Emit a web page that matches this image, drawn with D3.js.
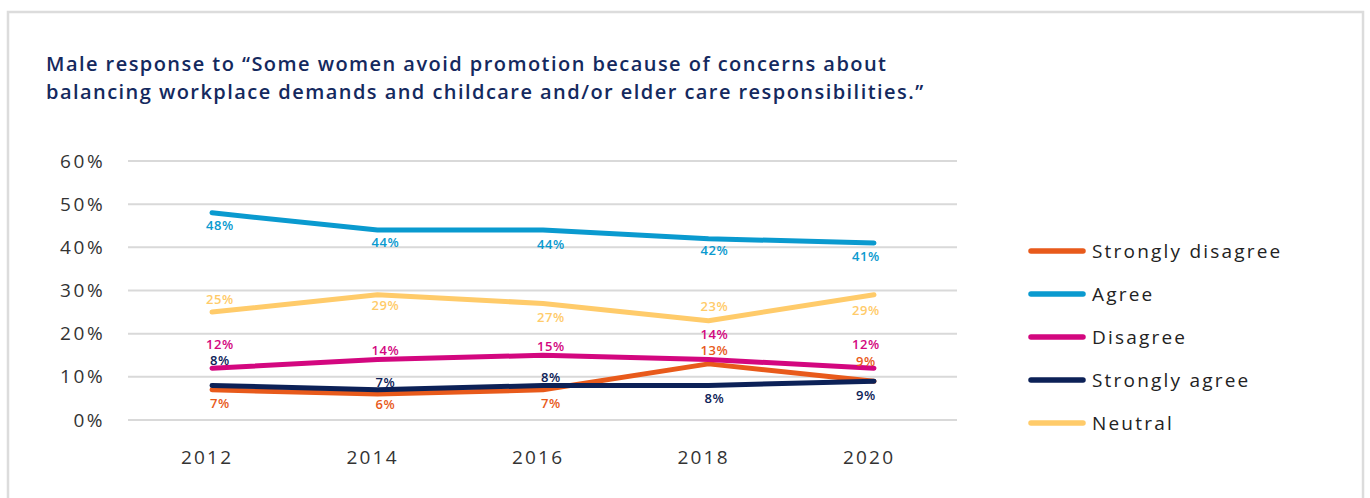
<!DOCTYPE html>
<html>
<head>
<meta charset="utf-8">
<script src="https://cdn.jsdelivr.net/npm/d3@7"></script>
<style>
  html, body { margin: 0; padding: 0; background: #fff; }
  svg { display: block; }
</style>
</head>
<body>
<svg id="chart" width="1370" height="498"></svg>
<script>
// Survey years and responses (% of male respondents)
const years = ["2012", "2014", "2016", "2018", "2020"];
const yTicks = [0, 10, 20, 30, 40, 50, 60];

const stronglyDisagree = [7, 6, 7, 13, 9];
const agree = [48, 44, 44, 42, 41];
const disagree = [12, 14, 15, 14, 12];
const stronglyAgree = [8, 7, 8, 8, 9];
const neutral = [25, 29, 27, 23, 29];

const legendOrder = ["Strongly disagree", "Agree", "Disagree", "Strongly agree", "Neutral"];
const drawOrder = ["Neutral", "Agree", "Strongly disagree", "Disagree", "Strongly agree"];

const seriesValues = {
  "Strongly disagree": stronglyDisagree,
  "Agree": agree,
  "Disagree": disagree,
  "Strongly agree": stronglyAgree,
  "Neutral": neutral
};

const colors = {
  "Strongly disagree": "#E85A1B",
  "Agree": "#0A9ACF",
  "Disagree": "#D3077F",
  "Strongly agree": "#0C2157",
  "Neutral": "#FFCB6A"
};

// Vertical offset of each value label from its point (px), avoiding overlaps
const labelDy = {
  "Strongly disagree": [14, 10, 14, -13, -20],
  "Agree": [13, 12, 14, 12, 13],
  "Disagree": [-24, -9, -9, -25, -24],
  "Strongly agree": [-25, -7, -8, 13, 14],
  "Neutral": [-13, 11, 14, -14, 16]
};
const labelDx = [8, 8, 8, 6, -8];

const FONT = "'Open Sans', 'Noto Sans', sans-serif";
const SPACING = 2.2;

const svg = d3.select("#chart");

// Card frame
svg.append("rect")
  .attr("x", 8).attr("y", 12)
  .attr("width", 1355).attr("height", 520)
  .attr("fill", "#fff")
  .attr("stroke", "#dcdcdc")
  .attr("stroke-width", 2.5);

// Title
const titleLines = [
  "Male response to \u201cSome women avoid promotion because of concerns about",
  "balancing workplace demands and childcare and/or elder care responsibilities.\u201d"
];
const title = svg.append("g")
  .attr("font-family", FONT)
  .attr("font-weight", 600)
  .attr("font-size", 20)
  .attr("letter-spacing", 1.45)
  .attr("fill", "#14295E");
title.selectAll("text").data(titleLines).join("text")
  .attr("x", 46)
  .attr("y", (d, i) => 71 + i * 28)
  .text(d => d);

// Scales
const x = d3.scalePoint().domain(years).range([212, 874]);
const y = d3.scaleLinear().domain([0, 60]).range([420, 161]);
const gridLeft = 128, gridRight = 957;

// Gridlines + y labels
const yAxis = svg.append("g");
yAxis.selectAll("line").data(yTicks).join("line")
  .attr("x1", gridLeft).attr("x2", gridRight)
  .attr("y1", d => y(d)).attr("y2", d => y(d))
  .attr("stroke", "#d9d9d9")
  .attr("stroke-width", 2);
yAxis.selectAll("text").data(yTicks).join("text")
  .attr("x", 103 + SPACING)
  .attr("y", d => y(d))
  .attr("dy", "0.35em")
  .attr("text-anchor", "end")
  .attr("font-family", FONT)
  .attr("font-size", 19)
  .attr("letter-spacing", 2.6)
  .attr("fill", "#333")
  .text(d => d + "%");

// X labels
svg.append("g").selectAll("text").data(years).join("text")
  .attr("x", d => x(d) - 6 + SPACING / 2)
  .attr("y", 457)
  .attr("dy", "0.35em")
  .attr("text-anchor", "middle")
  .attr("font-family", FONT)
  .attr("font-size", 19)
  .attr("letter-spacing", SPACING)
  .attr("fill", "#333")
  .text(d => d);

// Lines
const line = d3.line()
  .x((d, i) => x(years[i]))
  .y(d => y(d));

const linesG = svg.append("g");
drawOrder.forEach(name => {
  linesG.append("path")
    .datum(seriesValues[name])
    .attr("d", line)
    .attr("fill", "none")
    .attr("stroke", colors[name])
    .attr("stroke-width", 5)
    .attr("stroke-linecap", "round")
    .attr("stroke-linejoin", "round");
});

// Value labels
const labelsG = svg.append("g")
  .attr("font-family", FONT)
  .attr("font-weight", 600)
  .attr("font-size", 13)
  .attr("letter-spacing", 0.6)
  .attr("text-anchor", "middle");
drawOrder.forEach(name => {
  labelsG.append("g").selectAll("text")
    .data(seriesValues[name])
    .join("text")
    .attr("x", (d, i) => x(years[i]) + labelDx[i])
    .attr("y", (d, i) => y(d) + labelDy[name][i])
    .attr("dy", "0.35em")
    .attr("fill", colors[name])
    .text(d => d + "%");
});

// Legend
const legend = svg.append("g");
const rows = legend.selectAll("g").data(legendOrder).join("g")
  .attr("transform", (d, i) => `translate(1029, ${251 + i * 43})`);
rows.append("line")
  .attr("x1", 2).attr("x2", 54)
  .attr("stroke", d => colors[d])
  .attr("stroke-width", 5.5)
  .attr("stroke-linecap", "round");
rows.append("text")
  .attr("x", 63)
  .attr("dy", "0.35em")
  .attr("font-family", FONT)
  .attr("font-size", 19)
  .attr("letter-spacing", SPACING)
  .attr("fill", "#222")
  .text(d => d);
</script>
</body>
</html>
